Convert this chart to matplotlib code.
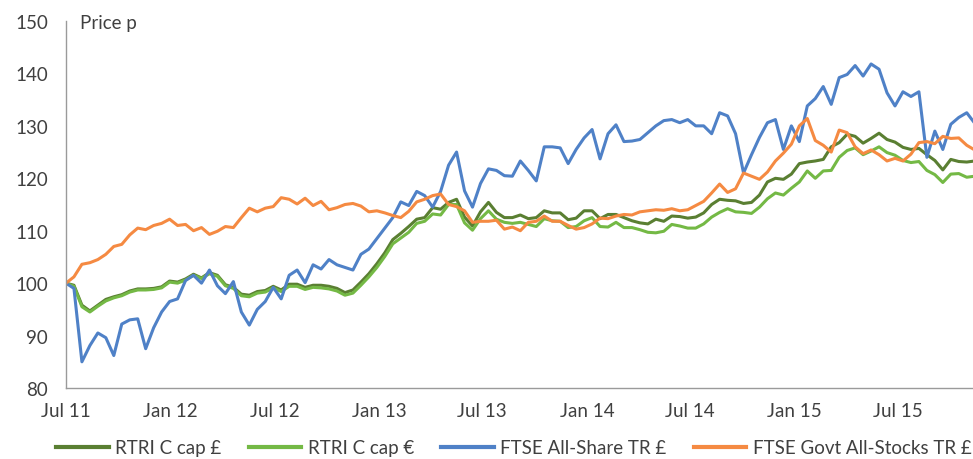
"""Price index chart: RTRI C shares vs FTSE benchmarks, Jul 2011 - Nov 2015."""
import matplotlib
matplotlib.use("Agg")
import matplotlib.pyplot as plt
import matplotlib.dates as mdates
import pandas as pd

plt.rcParams['font.family'] = ['Lato', 'DejaVu Sans']

# fortnightly observations starting 1 Jul 2011
dates = pd.date_range('2011-07-01', periods=115, freq='14D')

rtri_gbp = [
    100, 99.6, 95.8, 94.7, 95.8, 96.9, 97.4, 97.8, 98.5, 98.9,
    98.9, 99.0, 99.3, 100.4, 100.2, 100.8, 101.7, 101.0, 102.0, 101.5,
    99.7, 99.2, 97.9, 97.7, 98.4, 98.6, 99.4, 98.7, 99.8, 99.8,
    99.2, 99.6, 99.6, 99.4, 99.0, 98.2, 98.7, 100.2, 101.8, 103.7,
    105.8, 108.3, 109.5, 110.8, 112.2, 112.5, 114.4, 114.1, 115.4, 116.0,
    112.6, 110.9, 113.6, 115.4, 113.5, 112.5, 112.5, 113.0, 112.3, 112.5,
    113.8, 113.4, 113.4, 112.1, 112.4, 113.8, 113.8, 112.3, 113.1, 113.1,
    112.5, 111.9, 111.5, 111.3, 112.2, 111.8, 112.8, 112.7, 112.4, 112.6,
    113.4, 115.0, 116.0, 115.8, 115.7, 115.2, 115.4, 116.8, 119.3, 120.0,
    119.8, 120.8, 122.8, 123.1, 123.3, 123.6, 126.0, 126.8, 128.4, 128.0,
    126.7, 127.6, 128.6, 127.4, 126.9, 125.9, 125.5, 125.7, 124.5, 123.4,
    121.6, 123.6, 123.2, 123.1, 123.3,
]
rtri_eur = [
    100, 99.4, 95.5, 94.5, 95.6, 96.6, 97.2, 97.6, 98.3, 98.7,
    98.7, 98.8, 99.1, 100.2, 100.0, 100.6, 101.5, 100.9, 101.8, 101.3,
    99.5, 99.0, 97.6, 97.4, 98.1, 98.3, 99.1, 98.4, 99.4, 99.4,
    98.8, 99.2, 99.1, 98.9, 98.5, 97.7, 98.1, 99.6, 101.2, 103.0,
    105.1, 107.5, 108.6, 109.7, 111.4, 111.8, 113.2, 113.0, 115.0, 115.0,
    111.5, 110.1, 112.3, 113.8, 112.2, 111.6, 111.4, 111.6, 111.2, 110.8,
    112.3, 111.9, 111.8, 110.6, 110.8, 111.9, 112.5, 110.8, 110.7, 111.6,
    110.6, 110.6, 110.2, 109.7, 109.6, 109.9, 111.2, 110.9, 110.5, 110.5,
    111.3, 112.6, 113.5, 114.2, 113.6, 113.5, 113.3, 114.5, 116.1, 117.2,
    116.8, 118.1, 119.3, 121.4, 120.0, 121.4, 121.5, 124.0, 125.3, 125.8,
    124.5, 125.2, 126.0, 124.9, 124.4, 123.4, 123.0, 123.2, 121.5, 120.7,
    119.2, 120.8, 120.9, 120.2, 120.4,
]
ftse_all_share = [
    100, 99.0, 85.0, 88.1, 90.5, 89.6, 86.2, 92.2, 93.0, 93.2,
    87.5, 91.5, 94.5, 96.5, 97.0, 100.5, 101.5, 100.0, 102.5, 99.5,
    98.0, 100.3, 94.5, 92.0, 95.0, 96.5, 99.2, 97.0, 101.5, 102.5,
    100.1, 103.5, 102.7, 104.5, 103.5, 103.0, 102.5, 105.5, 106.5, 108.5,
    110.5, 112.5, 115.5, 114.8, 117.5, 116.7, 114.5, 117.5, 122.5, 125.0,
    117.6, 114.5, 119.0, 121.8, 121.5, 120.5, 120.4, 123.3, 121.5, 119.5,
    126.0, 126.0, 125.8, 122.8, 125.5, 127.7, 129.3, 123.7, 128.5, 130.2,
    127.0, 127.1, 127.4, 128.7, 130.0, 131.0, 131.2, 130.6, 131.2, 130.0,
    130.0, 128.5, 132.5, 131.9, 128.5, 121.0, 124.5, 127.8, 130.6, 131.2,
    125.5, 130.0, 127.0, 133.8, 135.2, 137.5, 134.1, 139.2, 139.8, 141.5,
    139.5, 141.8, 140.8, 136.3, 133.8, 136.5, 135.6, 136.5, 124.0, 129.0,
    125.5, 130.3, 131.6, 132.5, 130.5,
]
ftse_govt = [
    100, 101.2, 103.6, 103.9, 104.5, 105.5, 107.0, 107.4, 109.2, 110.5,
    110.2, 111.0, 111.4, 112.2, 111.0, 111.2, 110.0, 110.6, 109.3, 109.9,
    110.8, 110.6, 112.5, 114.3, 113.6, 114.3, 114.6, 116.3, 116.0, 115.1,
    116.2, 114.8, 115.6, 114.0, 114.4, 115.0, 115.2, 114.7, 113.6, 113.8,
    113.4, 112.9, 112.5, 113.7, 115.5, 116.0, 116.7, 117.0, 115.0, 114.6,
    113.8, 111.6, 111.8, 111.8, 112.0, 110.3, 110.7, 110.0, 111.6, 111.8,
    112.8, 111.8, 111.8, 111.0, 110.3, 110.6, 111.3, 112.4, 112.3, 112.8,
    113.1, 113.0, 113.6, 113.8, 114.0, 113.9, 114.2, 113.8, 114.0, 114.8,
    115.6, 117.2, 118.9, 117.3, 118.0, 121.0, 120.4, 119.8, 121.2, 123.3,
    124.8, 126.5, 130.0, 131.4, 127.2, 126.3, 125.0, 129.2, 128.7, 126.0,
    124.7, 125.4, 124.5, 123.3, 123.8, 123.3, 124.6, 126.8, 127.0, 126.6,
    128.0, 127.6, 127.7, 126.3, 125.4,
]

series = [
    ('RTRI C cap £', rtri_gbp, '#5a7f32'),
    ('RTRI C cap €', rtri_eur, '#74b945'),
    ('FTSE All-Share TR £', ftse_all_share, '#4f81c7'),
    ('FTSE Govt All-Stocks TR £', ftse_govt, '#f58a42'),
]

TEXT = '#404040'
FS = 13.5

fig = plt.figure(figsize=(9.73, 4.60), dpi=100)
ax = fig.add_axes([0.0678, 0.1543, 0.9322, 0.7979])

for label, vals, color in series:
    ax.plot(dates, vals, color=color, lw=2.2, label=label, solid_joinstyle='round')

ax.set_ylim(80, 150)
ax.set_yticks(range(80, 151, 10))
ax.set_xlim(pd.Timestamp('2011-07-01'), pd.Timestamp('2015-11-10'))
ax.xaxis.set_major_locator(mdates.MonthLocator(bymonth=(1, 7)))
ax.xaxis.set_major_formatter(mdates.DateFormatter('%b %y'))

for side in ('top', 'right'):
    ax.spines[side].set_visible(False)
for side in ('left', 'bottom'):
    ax.spines[side].set_color('#9a9a9a')
    ax.spines[side].set_linewidth(1.0)
ax.tick_params(axis='both', length=0, labelsize=FS, colors=TEXT)
ax.tick_params(axis='y', pad=13)
ax.tick_params(axis='x', pad=10)

ax.text(0.015, 0.995, 'Price p', transform=ax.transAxes, ha='left', va='center',
        fontsize=FS, color=TEXT)

leg = fig.legend(loc='center', bbox_to_anchor=(0.528, 0.024), ncol=4, frameon=False,
                 fontsize=FS, handlelength=2.8, handletextpad=0.35, columnspacing=1.45)
for t in leg.get_texts():
    t.set_color(TEXT)
for h in leg.get_lines():
    h.set_linewidth(3)

fig.savefig('out.png', dpi=100)
